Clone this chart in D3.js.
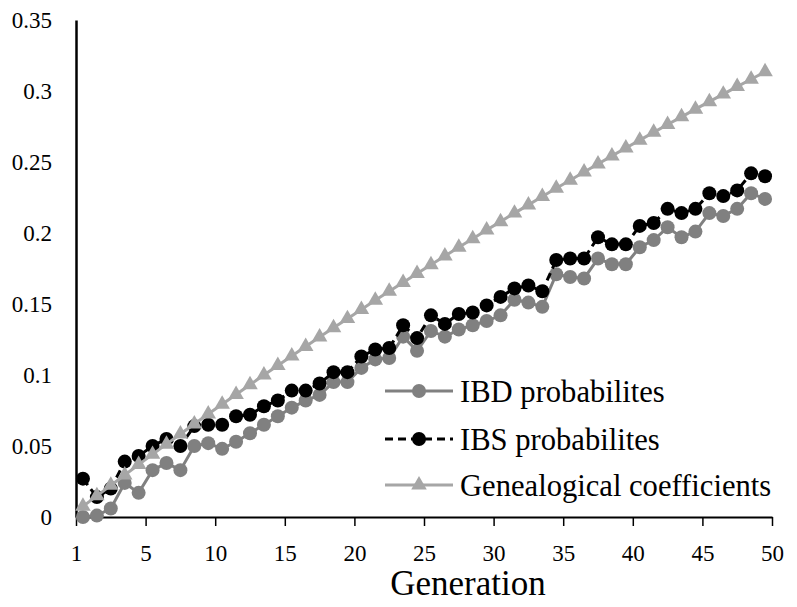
<!DOCTYPE html>
<html>
<head>
<meta charset="utf-8">
<script src="https://cdn.jsdelivr.net/npm/d3@7"></script>
<style>
  html, body { margin: 0; padding: 0; background: #fff; }
  svg { display: block; font-family: "Liberation Serif", "Times New Roman", serif; }
</style>
</head>
<body>
<svg id="chart" width="797" height="607"></svg>
<script>
// ---- data ----
const generations = d3.range(1, 51);
const ibd = [0.000, 0.001, 0.006, 0.024, 0.017, 0.033, 0.038, 0.033, 0.050, 0.052,
             0.048, 0.053, 0.059, 0.065, 0.071, 0.077, 0.082, 0.086, 0.095, 0.095,
             0.105, 0.111, 0.112, 0.127, 0.117, 0.131, 0.127, 0.132, 0.135, 0.138,
             0.142, 0.153, 0.151, 0.148, 0.171, 0.169, 0.168, 0.182, 0.178, 0.178,
             0.190, 0.195, 0.204, 0.197, 0.201, 0.214, 0.212, 0.217, 0.228, 0.224];
const ibs = [0.027, 0.014, 0.020, 0.039, 0.043, 0.050, 0.055, 0.050, 0.064, 0.065,
             0.065, 0.071, 0.072, 0.078, 0.082, 0.089, 0.089, 0.094, 0.102, 0.102,
             0.113, 0.118, 0.119, 0.135, 0.126, 0.142, 0.136, 0.143, 0.144, 0.149,
             0.155, 0.161, 0.163, 0.159, 0.181, 0.182, 0.182, 0.197, 0.192, 0.192,
             0.205, 0.207, 0.217, 0.214, 0.217, 0.228, 0.226, 0.230, 0.242, 0.240];
const genealogical = [0.0075, 0.0149, 0.0223, 0.0296, 0.0369, 0.0441, 0.0513, 0.0584, 0.0655, 0.0725,
                      0.0794, 0.0863, 0.0932, 0.1000, 0.1067, 0.1134, 0.1201, 0.1267, 0.1332, 0.1397,
                      0.1462, 0.1526, 0.1589, 0.1652, 0.1715, 0.1777, 0.1838, 0.1900, 0.1960, 0.2021,
                      0.2080, 0.2140, 0.2198, 0.2257, 0.2315, 0.2372, 0.2430, 0.2486, 0.2543, 0.2599,
                      0.2654, 0.2709, 0.2764, 0.2818, 0.2872, 0.2925, 0.2978, 0.3031, 0.3083, 0.3135];
const xTickLabels = ["1", "5", "10", "15", "20", "25", "30", "35", "40", "45", "50"];
const yTickValues = [0, 0.05, 0.1, 0.15, 0.2, 0.25, 0.3, 0.35];
const yTickLabels = ["0", "0.05", "0.1", "0.15", "0.2", "0.25", "0.3", "0.35"];
const seriesNames = ["IBD probabilites", "IBS probabilites", "Genealogical coefficients"];

// ---- layout ----
const FONT = "'Liberation Serif', 'Times New Roman', serif";
const svg = d3.select("#chart");
const mLeft = 76, mRight = 772, mTop = 20, mBottom = 517;

const x = d3.scaleBand().domain(generations).range([mLeft, mRight]).padding(0);
const xEdge = d3.scaleLinear().domain([0, generations.length]).range([mLeft, mRight]);
const y = d3.scaleLinear().domain([0, 0.35]).range([mBottom, mTop]);
const cx = g => x(g) + x.bandwidth() / 2;

const series = [
  { name: seriesNames[0], values: ibd, color: "#808080", dash: null, marker: "circle" },
  { name: seriesNames[1], values: ibs, color: "#000000", dash: "8,5", marker: "circle" },
  { name: seriesNames[2], values: genealogical, color: "#a6a6a6", dash: null, marker: "triangle" }
];

// axes
const xAxis = d3.axisBottom(xEdge)
  .tickValues(d3.range(0, 51, 5))
  .tickFormat((d, i) => xTickLabels[i])
  .tickSizeOuter(0).tickSizeInner(9);
const gx = svg.append("g").attr("transform", `translate(0,${mBottom})`).call(xAxis)
  .attr("font-family", FONT).attr("font-size", 23);
gx.select(".domain").attr("stroke", "#000").attr("stroke-width", 2);
gx.selectAll(".tick line").attr("stroke", "#000").attr("stroke-width", 1.5);
gx.selectAll(".tick text").attr("y", 36).attr("dy", "0.35em").attr("fill", "#000");

const yAxis = d3.axisLeft(y).tickValues(yTickValues)
  .tickFormat((d, i) => yTickLabels[i]).tickSize(0).tickPadding(24);
const gy = svg.append("g").attr("transform", `translate(${mLeft},0)`).call(yAxis)
  .attr("font-family", FONT).attr("font-size", 23);
gy.select(".domain").attr("stroke", "#000").attr("stroke-width", 2.5);
gy.selectAll(".tick text").attr("fill", "#000");

// series
const line = d3.line().x((d, i) => cx(generations[i])).y(d => y(d));
const tri = d3.symbol().type(d3.symbolTriangle).size(105);

series.forEach(s => {
  svg.append("path").datum(s.values)
    .attr("d", line).attr("fill", "none")
    .attr("stroke", s.color).attr("stroke-width", 3)
    .attr("stroke-dasharray", s.dash);
  const g = svg.append("g");
  if (s.marker === "circle") {
    g.selectAll("circle").data(s.values).join("circle")
      .attr("cx", (d, i) => cx(generations[i])).attr("cy", d => y(d))
      .attr("r", 7).attr("fill", s.color);
  } else {
    g.selectAll("path").data(s.values).join("path")
      .attr("d", tri)
      .attr("transform", (d, i) => `translate(${cx(generations[i])},${y(d)})`)
      .attr("fill", s.color);
  }
});

// axis title
svg.append("text").attr("x", 468).attr("y", 583).attr("dy", "0.35em")
  .attr("text-anchor", "middle").attr("font-family", FONT).attr("font-size", 35).text("Generation");

// legend
const leg = svg.append("g").attr("font-family", FONT);
const legY = [391, 439, 485];
series.forEach((s, i) => {
  const ly = legY[i];
  leg.append("line").attr("x1", 385).attr("x2", 453).attr("y1", ly).attr("y2", ly)
    .attr("stroke", s.color).attr("stroke-width", 3).attr("stroke-dasharray", s.dash);
  if (s.marker === "circle") {
    leg.append("circle").attr("cx", 419).attr("cy", ly).attr("r", 7).attr("fill", s.color);
  } else {
    leg.append("path").attr("d", tri).attr("transform", `translate(419,${ly})`).attr("fill", s.color);
  }
  leg.append("text").attr("x", 460).attr("y", ly).attr("dy", "0.35em")
    .attr("font-size", 30.6).attr("fill", "#000").text(s.name);
});
</script>
</body>
</html>
